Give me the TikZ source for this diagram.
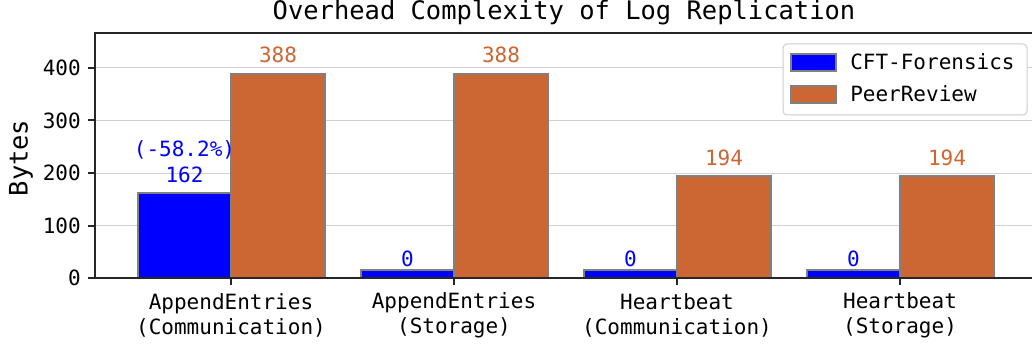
\documentclass[tikz,border=0pt]{standalone}
\usepackage{fontspec}
\setmainfont{DejaVu Sans Mono}
\definecolor{cftblue}{RGB}{0,0,255}
\definecolor{prorange}{RGB}{204,102,51}
\tikzset{
	spine/.style={line width=1.5pt, black!85},
	gridline/.style={line width=0.75pt, black!18},
	cftbar/.style={fill=cftblue, draw=gray, line width=1.5pt},
	prbar/.style={fill=prorange, draw=gray, line width=1.5pt},
	lbl/.style={font=\fontsize{15.75}{18.9}\selectfont, inner sep=0pt},
	biglbl/.style={font=\fontsize{19.1}{22}\selectfont, inner sep=0pt},
}
\def\valbar[#1](#2:#3:#4){\draw[#1] (#2, 69) rectangle (#3, #4);}

\begin{document}
\begin{tikzpicture}[x=0.75pt, y=0.75pt]
				%%%%% START %%%%%
				\useasboundingbox (0, 0) rectangle (1032, 347);
				
				\node[biglbl] (title) at (564, 335) {Overhead Complexity of Log Replication};
				
				\draw[gridline] (95, 121.5) -- (1032, 121.5);
				\draw[gridline] (95, 174) -- (1032, 174);
				\draw[gridline] (95, 226.5) -- (1032, 226.5);
				\draw[gridline] (95, 279) -- (1032, 279);
				
				\valbar[cftbar](138:231:154.05);
				\valbar[prbar](231:325:272.7);
				\valbar[cftbar](361:454:77);
				\valbar[prbar](454:548:272.7);
				\valbar[cftbar](584:677:77);
				\valbar[prbar](677:771:170.85);
				\valbar[cftbar](807:900:77);
				\valbar[prbar](900:994:170.85);
				
				\draw[spine] (1032, 314) -- (95, 314) -- (95, 69) -- (1032, 69);
				\draw[spine] (88, 69) -- (95, 69);
				\draw[spine] (88, 121.5) -- (95, 121.5);
				\draw[spine] (88, 174) -- (95, 174);
				\draw[spine] (88, 226.5) -- (95, 226.5);
				\draw[spine] (88, 279) -- (95, 279);
				\draw[spine] (231, 69) -- (231, 62);
				\draw[spine] (454, 69) -- (454, 62);
				\draw[spine] (677, 69) -- (677, 62);
				\draw[spine] (900, 69) -- (900, 62);
				
				\node[lbl, anchor=east] (y0) at (81, 69) {0};
				\node[lbl, anchor=east] (y100) at (81, 121.5) {100};
				\node[lbl, anchor=east] (y200) at (81, 174) {200};
				\node[lbl, anchor=east] (y300) at (81, 226.5) {300};
				\node[lbl, anchor=east] (y400) at (81, 279) {400};
				\node[biglbl, rotate=90] (ylab) at (21, 189) {Bytes};
				
				\node[lbl, align=center] (cat1) at (231, 31.5) {AppendEntries\\(Communication)};
				\node[lbl, align=center] (cat2) at (454, 31.5) {AppendEntries\\(Storage)};
				\node[lbl, align=center] (cat3) at (677, 31.5) {Heartbeat\\(Communication)};
				\node[lbl, align=center] (cat4) at (900, 31.5) {Heartbeat\\(Storage)};
				
				\node[lbl, text=cftblue] (pct1) at (184.5, 197) {(-58.2\%)};
				\node[lbl, text=cftblue] (cft1) at (184.5, 172) {162};
				\node[lbl, text=cftblue] (cft2) at (407.5, 88) {0};
				\node[lbl, text=cftblue] (cft3) at (630.5, 88) {0};
				\node[lbl, text=cftblue] (cft4) at (853.5, 88) {0};
				\node[lbl, text=prorange] (pr1) at (278, 292) {388};
				\node[lbl, text=prorange] (pr2) at (501, 292) {388};
				\node[lbl, text=prorange] (pr3) at (724, 189) {194};
				\node[lbl, text=prorange] (pr4) at (947, 189) {194};
				
				\draw[fill=white, draw=black!20, line width=0.75pt, rounded corners=3pt] (783, 232) rectangle (1027, 303);
				\draw[cftbar] (791, 276.3) rectangle (836, 293);
				\draw[prbar] (791, 244.3) rectangle (836, 261);
				\node[lbl, anchor=west] (leg1) at (850, 285) {CFT-Forensics};
				\node[lbl, anchor=west] (leg2) at (850, 253) {PeerReview};
				%%%%% END %%%%%
\end{tikzpicture}
\end{document}
